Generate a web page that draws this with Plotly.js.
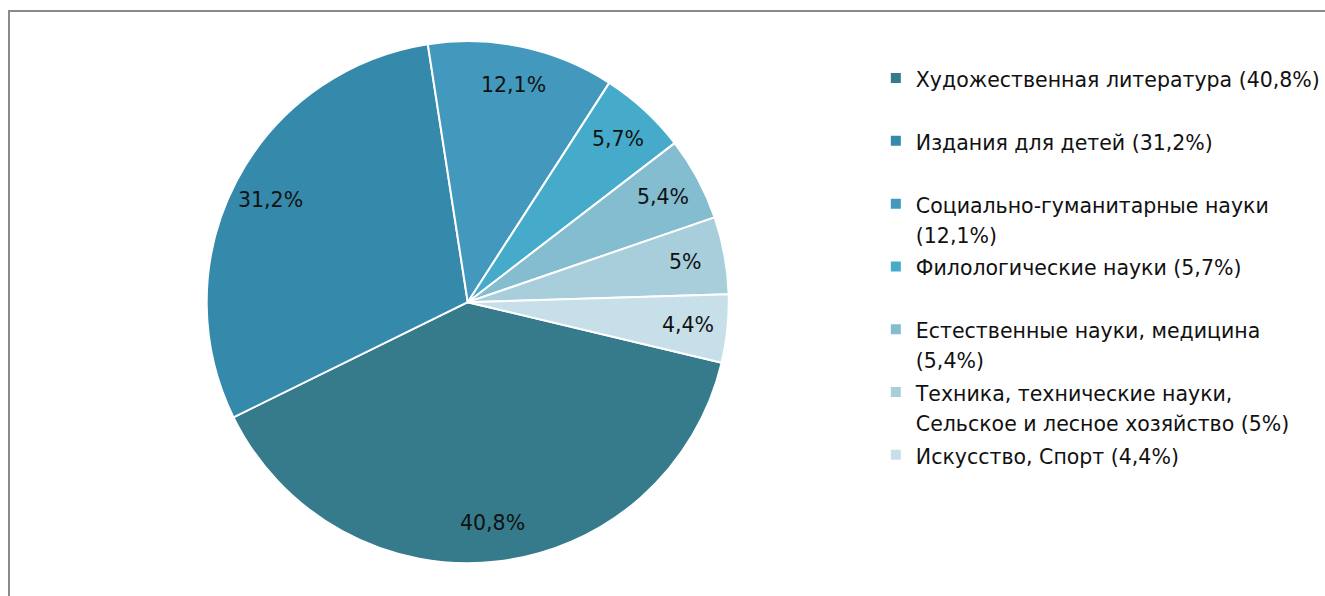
<!DOCTYPE html>
<html>
<head>
<meta charset="utf-8">
<script src="https://cdn.plot.ly/plotly-3.0.1.min.js"></script>
<style>
  body { margin: 0; background: #fff; overflow: hidden; }
  #chart { width: 1325px; height: 596px; }
  /* grey frame of the original chart area, cut by the screenshot on right and bottom */
  #frame { position: absolute; left: 8px; top: 10px; width: 1400px; height: 700px;
           border-left: 2px solid #8a8a8a; border-top: 2px solid #8a8a8a; pointer-events: none; }
</style>
</head>
<body>
<div id="chart"></div>
<div id="frame"></div>
<script>
var categories = [
    'Художественная литература',
    'Издания для детей',
    'Социально-гуманитарные науки',
    'Филологические науки',
    'Естественные науки, медицина',
    'Техника, технические науки, Сельское и лесное хозяйство',
    'Искусство, Спорт'
];
var shares = [40.8, 31.2, 12.1, 5.7, 5.4, 5, 4.4];
var shareLabels = ['40,8%', '31,2%', '12,1%', '5,7%', '5,4%', '5%', '4,4%'];

var sliceColors = ['#367b8b', '#3589ab', '#4399bd', '#46abca', '#84bcd0', '#a8cedc', '#c7dfe8'];

var W = 1325, H = 596;
var pieX = [0.156, 0.550];
var pieY = [0.055, 0.931];
var rotation = 103.4;
var textFont = 'DejaVu Sans, sans-serif';

// wrap a legend entry roughly like the original (max ~33 chars a line)
function wrap(str, max) {
    var words = str.split(' ');
    var lines = [];
    var cur = '';
    words.forEach(function (w) {
        if (cur && (cur + ' ' + w).length > max) {
            lines.push(cur);
            cur = w;
        } else {
            cur = cur ? cur + ' ' + w : w;
        }
    });
    lines.push(cur);
    // every entry takes two lines in the original legend
    while (lines.length < 2) lines.push('\u00a0');
    return lines.map(function (l) {
        return '<span style="font-size:20.5px">' + l + '</span>';
    }).join('<br>');
}

var legendText = categories.map(function (c, i) {
    return wrap(c + ' (' + shareLabels[i] + ')', 33);
});

var trace = {
    type: 'pie',
    labels: legendText,
    values: shares,
    sort: false,
    direction: 'clockwise',
    rotation: rotation,
    textinfo: 'none',
    hoverinfo: 'label+value',
    marker: {
        colors: sliceColors,
        line: {color: '#ffffff', width: 2}
    },
    domain: {x: pieX, y: pieY}
};

// slice labels sit near the rim, like the Excel original
function sliceLabels() {
    var total = shares.reduce(function (a, b) { return a + b; }, 0);
    var cx = (pieX[0] + pieX[1]) / 2;
    var cy = (pieY[0] + pieY[1]) / 2;
    var rPx = Math.min((pieX[1] - pieX[0]) * W, (pieY[1] - pieY[0]) * H) / 2;
    var k = 0.85;
    var cum = 0;
    var out = [];
    shares.forEach(function (v, i) {
        // angle clockwise from 12 o'clock, same as plotly's rotation
        var ang = (rotation + (cum + v / 2) / total * 360) * Math.PI / 180;
        cum += v;
        out.push({
            x: cx + k * rPx * Math.sin(ang) / W,
            y: cy + k * rPx * Math.cos(ang) / H,
            xref: 'paper', yref: 'paper',
            text: shareLabels[i],
            showarrow: false,
            xanchor: 'center', yanchor: 'middle',
            font: {family: textFont, size: 20.5, color: '#111111'}
        });
    });
    return out;
}

var layout = {
    width: W,
    height: H,
    margin: {l: 0, r: 0, t: 0, b: 0},
    paper_bgcolor: '#ffffff',
    showlegend: true,
    legend: {
        x: 0.661,
        xanchor: 'left',
        y: 0.905,
        yanchor: 'top',
        valign: 'top',
        font: {family: textFont, size: 23, color: '#111111'},
        bgcolor: 'rgba(0,0,0,0)'
    },
    annotations: sliceLabels()
};

Plotly.newPlot('chart', [trace], layout, {displayModeBar: false, staticPlot: true});
</script>
</body>
</html>
